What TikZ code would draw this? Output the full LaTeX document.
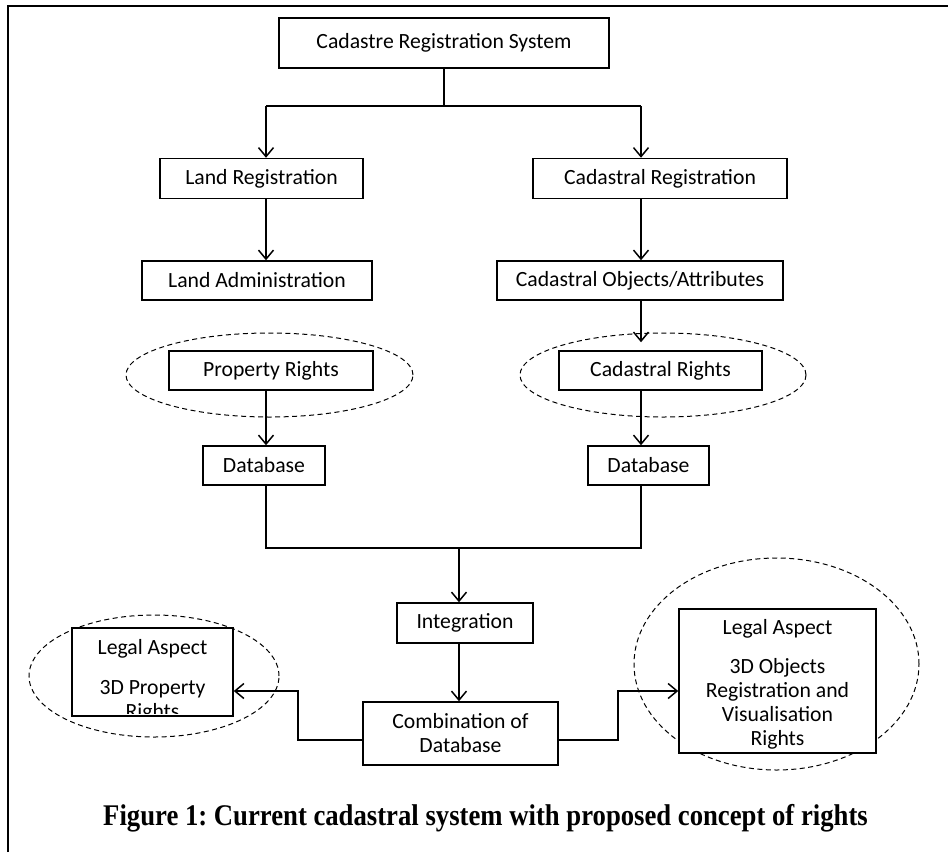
\documentclass[tikz,border=0pt]{standalone}
\usepackage{fontspec}
\setmainfont{Carlito}
\newfontfamily\capfont{Liberation Serif}
\usetikzlibrary{arrows.meta,calc,shapes.geometric}
\frenchspacing
\begin{document}
\begin{tikzpicture}[x=1pt,y=-1pt,
  box/.style={draw, line width=1.5pt, fill=white, inner sep=0pt, align=center,
    font=\fontsize{21.7}{24}\selectfont},
  txt/.style={inner sep=0pt, align=center, font=\fontsize{21.7}{24}\selectfont},
  conn/.style={line width=1.5pt},
  arr/.style={conn, -{Straight Barb[length=9pt,width=15pt,line width=1.5pt]}},
  oval/.style={draw, ellipse, line width=1pt, dash pattern=on 5pt off 3.5pt, inner sep=0pt},
]
\useasboundingbox (0,0) rectangle (948,852);
% frame
\coordinate (f1) at (8,852);
\coordinate (f2) at (8,6);
\coordinate (f3) at (948,6);
\draw[line width=2.5pt] (f1) -- (f2) -- (f3);

% dashed ellipses (behind boxes)
\node[oval, minimum width=287pt, minimum height=84pt] (e1) at (269.5,375) {};
\node[oval, minimum width=286pt, minimum height=84pt] (e2) at (663,375) {};
\node[oval, minimum width=250pt, minimum height=122pt] (e3) at (154,676) {};
\node[oval, minimum width=285pt, minimum height=212pt] (e4) at (776.5,664) {};

% boxes
\node[box, minimum width=330pt, minimum height=50pt] (crs) at (444,43) {Cadastre Registration System};
\node[box, minimum width=203pt, minimum height=40pt] (lr) at (261.5,178.5) {Land Registration};
\node[box, minimum width=254pt, minimum height=40pt] (cr) at (660,178.5) {Cadastral Registration};
\node[box, minimum width=230pt, minimum height=39pt] (la) at (257,280.5) {Land Administration};
\node[box, minimum width=286pt, minimum height=39pt] (co) at (640,280.5) {Cadastral Objects/Attributes};
\node[box, minimum width=204pt, minimum height=39pt] (pr) at (271,370.5) {Property Rights};
\node[box, minimum width=203pt, minimum height=39pt] (crt) at (660.5,370.5) {Cadastral Rights};
\node[box, minimum width=122pt, minimum height=39pt] (db1) at (264,465.5) {Database};
\node[box, minimum width=121pt, minimum height=39pt] (db2) at (648.5,465.5) {Database};
\node[box, minimum width=136pt, minimum height=40pt] (integ) at (465,623) {Integration};
\node[box, minimum width=195pt, minimum height=63pt] (comb) at (460.5,733.5) {Combination of\\Database};
\node[box, minimum width=161pt, minimum height=88pt] (lb) at (152.5,672) {};
\begin{scope}
  \clip ($(lb.south west)+(2,-3)$) rectangle ($(lb.north east)+(-2,2)$);
  \node[txt, anchor=north] (lbt) at (152.5,639) {Legal Aspect\\[16pt]3D Property\\Rights};
\end{scope}
\node[box, minimum width=197pt, minimum height=144pt] (rb) at (777.5,681) {};
\node[txt] (rbt) at ($(rb.center)+(0,3)$) {Legal Aspect\\[15pt]3D Objects\\Registration and\\Visualisation\\Rights};

% connectors
\coordinate (j1) at (444,106);
\coordinate (jl) at (266,106);
\coordinate (jr) at (641,106);
\draw[conn] (crs.south) -- (j1);
\draw[conn] (jl) -- (jr);
\draw[arr] (jl) -- (jl |- lr.north);
\draw[arr] (jr) -- (jr |- cr.north);
\draw[arr] (jl |- lr.south) -- (jl |- la.north);
\draw[arr] (jr |- cr.south) -- (jr |- co.north);
\draw[arr] (jr |- co.south) -- ($(jr |- crt.north)+(0,-8)$);
\draw[arr] (jl |- pr.south) -- (jl |- db1.north);
\draw[arr] (jr |- crt.south) -- (jr |- db2.north);

\coordinate (k1) at (266,548);
\coordinate (k2) at (641,548);
\coordinate (km) at (459,548);
\draw[conn] (jl |- db1.south) -- (k1) -- (k2) -- (jr |- db2.south);
\draw[arr] (km) -- (km |- integ.north);
\draw[arr] (km |- integ.south) -- (km |- comb.north);

\coordinate (ay) at (0,691);
\coordinate (cl) at (298,740);
\coordinate (cr2) at (618,740);
\draw[arr] (comb.west |- cl) -- (cl) -- (cl |- ay) -- (lb.east |- ay);
\draw[arr] (comb.east |- cr2) -- (cr2) -- (cr2 |- ay) -- (rb.west |- ay);

% caption
\node[anchor=base, inner sep=0pt] (cap) at (485.5,825)
  {\capfont\bfseries\fontsize{30}{36}\selectfont\scalebox{0.89}[1]{Figure 1: Current cadastral system with proposed concept of rights}};
\end{tikzpicture}
\end{document}
